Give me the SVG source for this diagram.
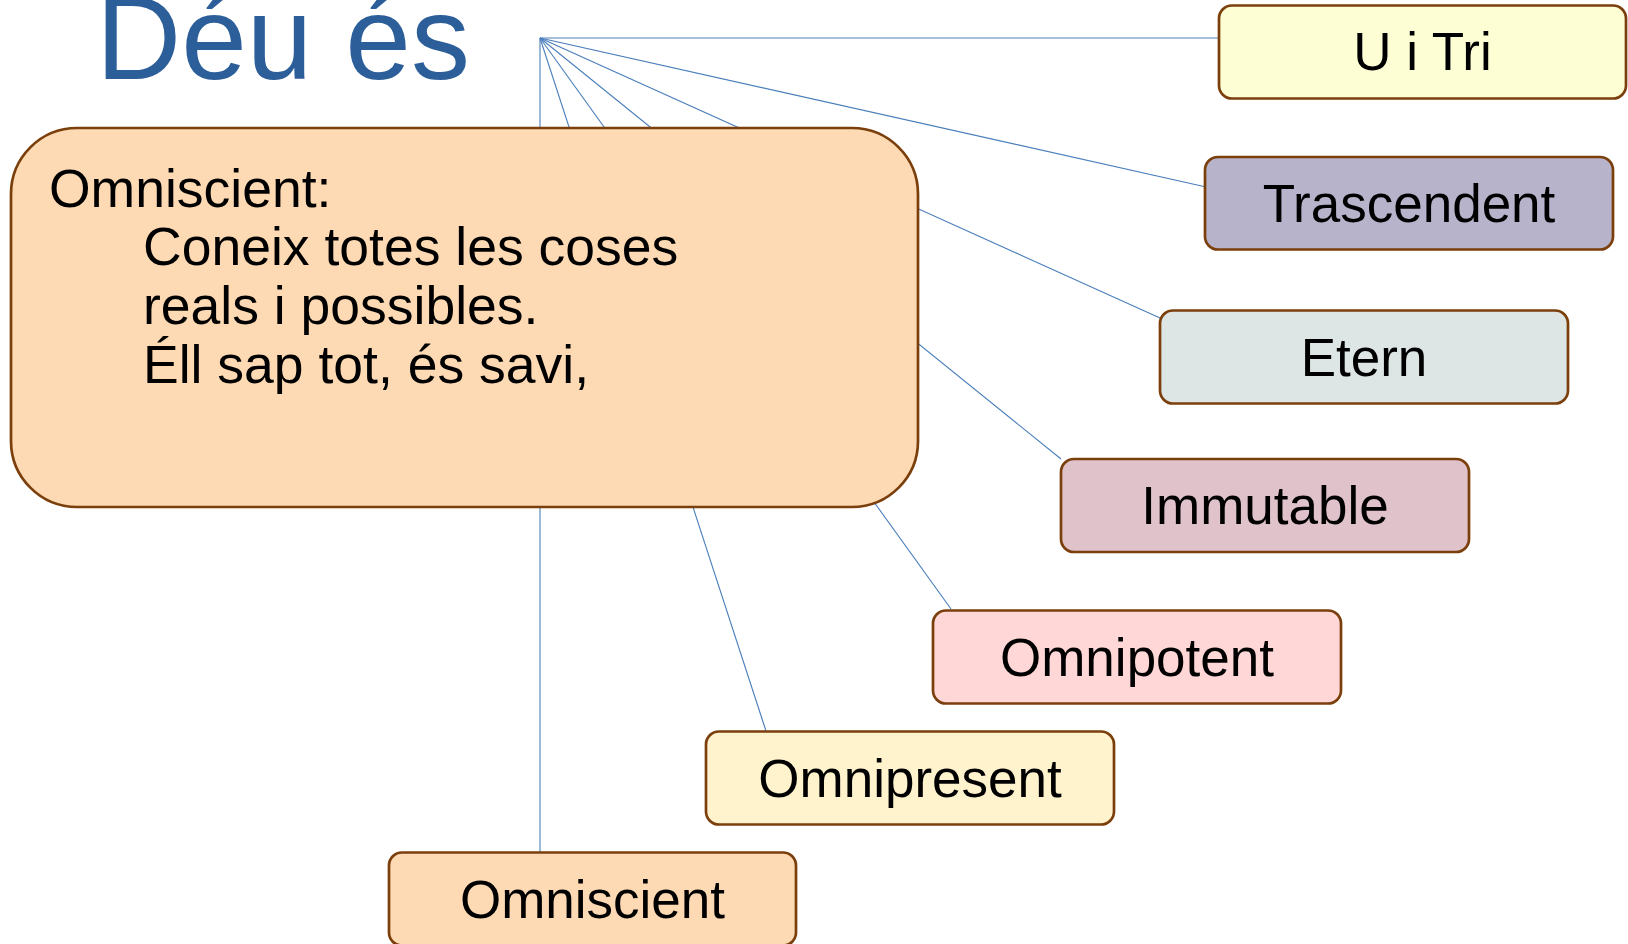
<svg xmlns="http://www.w3.org/2000/svg" width="1628" height="944" viewBox="0 0 1628 944">
<style>
.node{stroke:#7b3f0c;stroke-width:2.7}
.lbl{font-family:"Liberation Sans",Arial,sans-serif;font-size:53px;fill:#000;text-anchor:middle}
.cl{font-family:"Liberation Sans",Arial,sans-serif;font-size:53.5px;fill:#000}
.conn line{stroke:#4a7ebb;stroke-width:1.1}
</style>
<rect width="1628" height="944" fill="#fff"/>
<g id="title"><text x="96" y="79" font-family="Liberation Sans,Arial,sans-serif" font-size="118" fill="#2c5f9a">Déu és</text></g>
<g id="connectors" class="conn">
<line x1="540" y1="38" x2="1219" y2="38"/>
<line x1="540" y1="38" x2="1205" y2="186.7"/>
<line x1="540" y1="38" x2="1160" y2="318"/>
<line x1="540" y1="38" x2="1061" y2="459"/>
<line x1="540" y1="38" x2="951" y2="609"/>
<line x1="540" y1="38" x2="766" y2="731"/>
<line x1="540" y1="38" x2="540" y2="852"/>
</g>
<g id="callout">
<rect class="node" x="11" y="128" width="907" height="379" rx="66" ry="66" fill="#fddab4"/>
<text class="cl" x="49" y="207">Omniscient:</text>
<text class="cl" x="143" y="265">Coneix totes les coses</text>
<text class="cl" x="143" y="324">reals i possibles.</text>
<text class="cl" x="143" y="383">Éll sap tot, és savi,</text>
</g>
<g id="n-uitri"><rect class="node" x="1219" y="5.5" width="407" height="93" rx="13" fill="#fefed5"/><text class="lbl" x="1422.5" y="70">U i Tri</text></g>
<g id="n-trascendent"><rect class="node" x="1205" y="157" width="408" height="92.5" rx="13" fill="#b7b3ca"/><text class="lbl" x="1409" y="221.5">Trascendent</text></g>
<g id="n-etern"><rect class="node" x="1160" y="310.5" width="408" height="93" rx="13" fill="#dee6e5"/><text class="lbl" x="1364" y="375.5">Etern</text></g>
<g id="n-immutable"><rect class="node" x="1061" y="459" width="408" height="93" rx="13" fill="#e0c2cb"/><text class="lbl" x="1265" y="524">Immutable</text></g>
<g id="n-omnipotent"><rect class="node" x="933" y="610.5" width="408" height="93" rx="13" fill="#ffd7d7"/><text class="lbl" x="1137" y="675.5">Omnipotent</text></g>
<g id="n-omnipresent"><rect class="node" x="706" y="731.5" width="408" height="93" rx="13" fill="#fff3ce"/><text class="lbl" x="910" y="796.5">Omnipresent</text></g>
<g id="n-omniscient"><rect class="node" x="389" y="852.5" width="407" height="93" rx="13" fill="#fddab4"/><text class="lbl" x="592.5" y="917.5">Omniscient</text></g>
</svg>
